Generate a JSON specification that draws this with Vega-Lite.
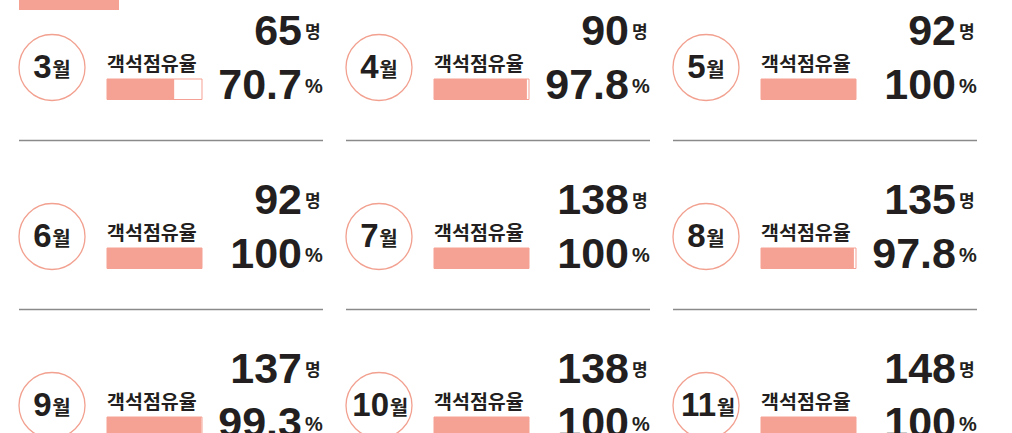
{
  "$schema": "https://vega.github.io/schema/vega-lite/v6.json",
  "padding": 0,
  "background": "white",
  "spacing": 0,
  "config": {
    "view": {"stroke": null},
    "concat": {"spacing": 0},
    "text": {"baseline": "alphabetic", "color": "#231f20"}
  },
  "data": {"values": [
    {"month": 3, "people": 65, "pct": 70.7},
    {"month": 4, "people": 90, "pct": 97.8},
    {"month": 5, "people": 92, "pct": 100},
    {"month": 6, "people": 92, "pct": 100},
    {"month": 7, "people": 138, "pct": 100},
    {"month": 8, "people": 135, "pct": 97.8},
    {"month": 9, "people": 137, "pct": 99.3},
    {"month": 10, "people": 138, "pct": 100},
    {"month": 11, "people": 148, "pct": 100}
  ]},
  "vconcat": [
    {
      "width": 326.5, "height": 10,
      "data": {"values": [{"section": "header"}]},
      "mark": {"type": "rect", "fill": "#f5a193"},
      "encoding": {
        "x": {"datum": -92.63, "type": "quantitative", "scale": {"domain": [-112.632, 231.053], "nice": false, "zero": false}, "axis": null},
        "x2": {"datum": 12.63}
      }
    },
    {"spacing": 0, "hconcat": [
      {"width": 326.5, "height": 165, "transform": [{"filter": "datum.month == 3"}], "layer": [
        {"mark": {"type": "point", "shape": "circle", "filled": false, "size": 4356, "stroke": "#f2a08f", "strokeWidth": 1.3, "opacity": 1},
         "encoding": {"x": {"datum": -57.89, "type": "quantitative", "scale": {"domain": [-112.632, 231.053], "nice": false, "zero": false}, "axis": null},
                      "y": {"datum": 53.5, "type": "quantitative", "scale": {"domain": [0, 165], "reverse": true, "nice": false, "zero": false}, "axis": null}}},
        {"mark": {"type": "rule", "stroke": "#8a8a8a", "strokeWidth": 1.7}, "encoding": {"x": {"datum": -92.63, "type": "quantitative"}, "x2": {"datum": 227.37}, "y": {"datum": 126.5, "type": "quantitative"}}},
        {"mark": {"type": "text", "align": "right", "font": "Liberation Sans", "fontWeight": "bold", "fontSize": 33}, "encoding": {"x": {"datum": -58.42, "type": "quantitative"}, "y": {"datum": 63.5, "type": "quantitative"}, "text": {"field": "month", "type": "nominal"}}},
        {"mark": {"type": "text", "align": "left", "font": "Noto Sans CJK KR", "fontWeight": "bold", "fontSize": 20, "text": "월"}, "encoding": {"x": {"datum": -57.6, "type": "quantitative"}, "y": {"datum": 62.6, "type": "quantitative"}}},
        {"mark": {"type": "text", "align": "left", "font": "Noto Sans CJK KR", "fontWeight": "bold", "fontSize": 19.5, "text": "객석점유율"}, "encoding": {"x": {"datum": 0, "type": "quantitative"}, "y": {"datum": 56.6, "type": "quantitative"}}},
        {"mark": {"type": "rect", "fill": "white", "stroke": "#f5a193", "strokeWidth": 1}, "encoding": {"x": {"datum": 0, "type": "quantitative"}, "x2": {"datum": 100}, "y": {"datum": 65, "type": "quantitative"}, "y2": {"datum": 85.5}}},
        {"mark": {"type": "rect", "fill": "#f5a193"}, "encoding": {"x": {"field": "pct", "type": "quantitative"}, "x2": {"datum": 0}, "y": {"datum": 65, "type": "quantitative"}, "y2": {"datum": 85.5}}},
        {"mark": {"type": "text", "align": "right", "font": "Liberation Sans", "fontWeight": "bold", "fontSize": 43}, "encoding": {"x": {"datum": 205.26, "type": "quantitative"}, "y": {"datum": 30.5, "type": "quantitative"}, "text": {"field": "people", "type": "nominal"}}},
        {"mark": {"type": "text", "align": "left", "font": "Noto Sans CJK KR", "fontWeight": "bold", "fontSize": 17, "text": "명"}, "encoding": {"x": {"datum": 208.42, "type": "quantitative"}, "y": {"datum": 23.8, "type": "quantitative"}}},
        {"mark": {"type": "text", "align": "right", "font": "Liberation Sans", "fontWeight": "bold", "fontSize": 43}, "encoding": {"x": {"datum": 205.26, "type": "quantitative"}, "y": {"datum": 85, "type": "quantitative"}, "text": {"field": "pct", "type": "nominal"}}},
        {"mark": {"type": "text", "align": "left", "font": "Liberation Sans", "fontWeight": "bold", "fontSize": 20, "text": "%"}, "encoding": {"x": {"datum": 208.42, "type": "quantitative"}, "y": {"datum": 79, "type": "quantitative"}}}
      ]},
      {"width": 326.5, "height": 165, "transform": [{"filter": "datum.month == 4"}], "layer": [
        {"mark": {"type": "point", "shape": "circle", "filled": false, "size": 4356, "stroke": "#f2a08f", "strokeWidth": 1.3, "opacity": 1},
         "encoding": {"x": {"datum": -57.89, "type": "quantitative", "scale": {"domain": [-112.632, 231.053], "nice": false, "zero": false}, "axis": null},
                      "y": {"datum": 53.5, "type": "quantitative", "scale": {"domain": [0, 165], "reverse": true, "nice": false, "zero": false}, "axis": null}}},
        {"mark": {"type": "rule", "stroke": "#8a8a8a", "strokeWidth": 1.7}, "encoding": {"x": {"datum": -92.63, "type": "quantitative"}, "x2": {"datum": 227.37}, "y": {"datum": 126.5, "type": "quantitative"}}},
        {"mark": {"type": "text", "align": "right", "font": "Liberation Sans", "fontWeight": "bold", "fontSize": 33}, "encoding": {"x": {"datum": -58.42, "type": "quantitative"}, "y": {"datum": 63.5, "type": "quantitative"}, "text": {"field": "month", "type": "nominal"}}},
        {"mark": {"type": "text", "align": "left", "font": "Noto Sans CJK KR", "fontWeight": "bold", "fontSize": 20, "text": "월"}, "encoding": {"x": {"datum": -57.6, "type": "quantitative"}, "y": {"datum": 62.6, "type": "quantitative"}}},
        {"mark": {"type": "text", "align": "left", "font": "Noto Sans CJK KR", "fontWeight": "bold", "fontSize": 19.5, "text": "객석점유율"}, "encoding": {"x": {"datum": 0, "type": "quantitative"}, "y": {"datum": 56.6, "type": "quantitative"}}},
        {"mark": {"type": "rect", "fill": "white", "stroke": "#f5a193", "strokeWidth": 1}, "encoding": {"x": {"datum": 0, "type": "quantitative"}, "x2": {"datum": 100}, "y": {"datum": 65, "type": "quantitative"}, "y2": {"datum": 85.5}}},
        {"mark": {"type": "rect", "fill": "#f5a193"}, "encoding": {"x": {"field": "pct", "type": "quantitative"}, "x2": {"datum": 0}, "y": {"datum": 65, "type": "quantitative"}, "y2": {"datum": 85.5}}},
        {"mark": {"type": "text", "align": "right", "font": "Liberation Sans", "fontWeight": "bold", "fontSize": 43}, "encoding": {"x": {"datum": 205.26, "type": "quantitative"}, "y": {"datum": 30.5, "type": "quantitative"}, "text": {"field": "people", "type": "nominal"}}},
        {"mark": {"type": "text", "align": "left", "font": "Noto Sans CJK KR", "fontWeight": "bold", "fontSize": 17, "text": "명"}, "encoding": {"x": {"datum": 208.42, "type": "quantitative"}, "y": {"datum": 23.8, "type": "quantitative"}}},
        {"mark": {"type": "text", "align": "right", "font": "Liberation Sans", "fontWeight": "bold", "fontSize": 43}, "encoding": {"x": {"datum": 205.26, "type": "quantitative"}, "y": {"datum": 85, "type": "quantitative"}, "text": {"field": "pct", "type": "nominal"}}},
        {"mark": {"type": "text", "align": "left", "font": "Liberation Sans", "fontWeight": "bold", "fontSize": 20, "text": "%"}, "encoding": {"x": {"datum": 208.42, "type": "quantitative"}, "y": {"datum": 79, "type": "quantitative"}}}
      ]},
      {"width": 326.5, "height": 165, "transform": [{"filter": "datum.month == 5"}], "layer": [
        {"mark": {"type": "point", "shape": "circle", "filled": false, "size": 4356, "stroke": "#f2a08f", "strokeWidth": 1.3, "opacity": 1},
         "encoding": {"x": {"datum": -57.89, "type": "quantitative", "scale": {"domain": [-112.632, 231.053], "nice": false, "zero": false}, "axis": null},
                      "y": {"datum": 53.5, "type": "quantitative", "scale": {"domain": [0, 165], "reverse": true, "nice": false, "zero": false}, "axis": null}}},
        {"mark": {"type": "rule", "stroke": "#8a8a8a", "strokeWidth": 1.7}, "encoding": {"x": {"datum": -92.63, "type": "quantitative"}, "x2": {"datum": 227.37}, "y": {"datum": 126.5, "type": "quantitative"}}},
        {"mark": {"type": "text", "align": "right", "font": "Liberation Sans", "fontWeight": "bold", "fontSize": 33}, "encoding": {"x": {"datum": -58.42, "type": "quantitative"}, "y": {"datum": 63.5, "type": "quantitative"}, "text": {"field": "month", "type": "nominal"}}},
        {"mark": {"type": "text", "align": "left", "font": "Noto Sans CJK KR", "fontWeight": "bold", "fontSize": 20, "text": "월"}, "encoding": {"x": {"datum": -57.6, "type": "quantitative"}, "y": {"datum": 62.6, "type": "quantitative"}}},
        {"mark": {"type": "text", "align": "left", "font": "Noto Sans CJK KR", "fontWeight": "bold", "fontSize": 19.5, "text": "객석점유율"}, "encoding": {"x": {"datum": 0, "type": "quantitative"}, "y": {"datum": 56.6, "type": "quantitative"}}},
        {"mark": {"type": "rect", "fill": "white", "stroke": "#f5a193", "strokeWidth": 1}, "encoding": {"x": {"datum": 0, "type": "quantitative"}, "x2": {"datum": 100}, "y": {"datum": 65, "type": "quantitative"}, "y2": {"datum": 85.5}}},
        {"mark": {"type": "rect", "fill": "#f5a193"}, "encoding": {"x": {"field": "pct", "type": "quantitative"}, "x2": {"datum": 0}, "y": {"datum": 65, "type": "quantitative"}, "y2": {"datum": 85.5}}},
        {"mark": {"type": "text", "align": "right", "font": "Liberation Sans", "fontWeight": "bold", "fontSize": 43}, "encoding": {"x": {"datum": 205.26, "type": "quantitative"}, "y": {"datum": 30.5, "type": "quantitative"}, "text": {"field": "people", "type": "nominal"}}},
        {"mark": {"type": "text", "align": "left", "font": "Noto Sans CJK KR", "fontWeight": "bold", "fontSize": 17, "text": "명"}, "encoding": {"x": {"datum": 208.42, "type": "quantitative"}, "y": {"datum": 23.8, "type": "quantitative"}}},
        {"mark": {"type": "text", "align": "right", "font": "Liberation Sans", "fontWeight": "bold", "fontSize": 43}, "encoding": {"x": {"datum": 205.26, "type": "quantitative"}, "y": {"datum": 85, "type": "quantitative"}, "text": {"field": "pct", "type": "nominal"}}},
        {"mark": {"type": "text", "align": "left", "font": "Liberation Sans", "fontWeight": "bold", "fontSize": 20, "text": "%"}, "encoding": {"x": {"datum": 208.42, "type": "quantitative"}, "y": {"datum": 79, "type": "quantitative"}}}
      ]}
    ]},
    {"spacing": 0, "hconcat": [
      {"width": 326.5, "height": 165, "transform": [{"filter": "datum.month == 6"}], "layer": [
        {"mark": {"type": "point", "shape": "circle", "filled": false, "size": 4356, "stroke": "#f2a08f", "strokeWidth": 1.3, "opacity": 1},
         "encoding": {"x": {"datum": -57.89, "type": "quantitative", "scale": {"domain": [-112.632, 231.053], "nice": false, "zero": false}, "axis": null},
                      "y": {"datum": 53.5, "type": "quantitative", "scale": {"domain": [0, 165], "reverse": true, "nice": false, "zero": false}, "axis": null}}},
        {"mark": {"type": "rule", "stroke": "#8a8a8a", "strokeWidth": 1.7}, "encoding": {"x": {"datum": -92.63, "type": "quantitative"}, "x2": {"datum": 227.37}, "y": {"datum": 126.5, "type": "quantitative"}}},
        {"mark": {"type": "text", "align": "right", "font": "Liberation Sans", "fontWeight": "bold", "fontSize": 33}, "encoding": {"x": {"datum": -58.42, "type": "quantitative"}, "y": {"datum": 63.5, "type": "quantitative"}, "text": {"field": "month", "type": "nominal"}}},
        {"mark": {"type": "text", "align": "left", "font": "Noto Sans CJK KR", "fontWeight": "bold", "fontSize": 20, "text": "월"}, "encoding": {"x": {"datum": -57.6, "type": "quantitative"}, "y": {"datum": 62.6, "type": "quantitative"}}},
        {"mark": {"type": "text", "align": "left", "font": "Noto Sans CJK KR", "fontWeight": "bold", "fontSize": 19.5, "text": "객석점유율"}, "encoding": {"x": {"datum": 0, "type": "quantitative"}, "y": {"datum": 56.6, "type": "quantitative"}}},
        {"mark": {"type": "rect", "fill": "white", "stroke": "#f5a193", "strokeWidth": 1}, "encoding": {"x": {"datum": 0, "type": "quantitative"}, "x2": {"datum": 100}, "y": {"datum": 65, "type": "quantitative"}, "y2": {"datum": 85.5}}},
        {"mark": {"type": "rect", "fill": "#f5a193"}, "encoding": {"x": {"field": "pct", "type": "quantitative"}, "x2": {"datum": 0}, "y": {"datum": 65, "type": "quantitative"}, "y2": {"datum": 85.5}}},
        {"mark": {"type": "text", "align": "right", "font": "Liberation Sans", "fontWeight": "bold", "fontSize": 43}, "encoding": {"x": {"datum": 205.26, "type": "quantitative"}, "y": {"datum": 30.5, "type": "quantitative"}, "text": {"field": "people", "type": "nominal"}}},
        {"mark": {"type": "text", "align": "left", "font": "Noto Sans CJK KR", "fontWeight": "bold", "fontSize": 17, "text": "명"}, "encoding": {"x": {"datum": 208.42, "type": "quantitative"}, "y": {"datum": 23.8, "type": "quantitative"}}},
        {"mark": {"type": "text", "align": "right", "font": "Liberation Sans", "fontWeight": "bold", "fontSize": 43}, "encoding": {"x": {"datum": 205.26, "type": "quantitative"}, "y": {"datum": 85, "type": "quantitative"}, "text": {"field": "pct", "type": "nominal"}}},
        {"mark": {"type": "text", "align": "left", "font": "Liberation Sans", "fontWeight": "bold", "fontSize": 20, "text": "%"}, "encoding": {"x": {"datum": 208.42, "type": "quantitative"}, "y": {"datum": 79, "type": "quantitative"}}}
      ]},
      {"width": 326.5, "height": 165, "transform": [{"filter": "datum.month == 7"}], "layer": [
        {"mark": {"type": "point", "shape": "circle", "filled": false, "size": 4356, "stroke": "#f2a08f", "strokeWidth": 1.3, "opacity": 1},
         "encoding": {"x": {"datum": -57.89, "type": "quantitative", "scale": {"domain": [-112.632, 231.053], "nice": false, "zero": false}, "axis": null},
                      "y": {"datum": 53.5, "type": "quantitative", "scale": {"domain": [0, 165], "reverse": true, "nice": false, "zero": false}, "axis": null}}},
        {"mark": {"type": "rule", "stroke": "#8a8a8a", "strokeWidth": 1.7}, "encoding": {"x": {"datum": -92.63, "type": "quantitative"}, "x2": {"datum": 227.37}, "y": {"datum": 126.5, "type": "quantitative"}}},
        {"mark": {"type": "text", "align": "right", "font": "Liberation Sans", "fontWeight": "bold", "fontSize": 33}, "encoding": {"x": {"datum": -58.42, "type": "quantitative"}, "y": {"datum": 63.5, "type": "quantitative"}, "text": {"field": "month", "type": "nominal"}}},
        {"mark": {"type": "text", "align": "left", "font": "Noto Sans CJK KR", "fontWeight": "bold", "fontSize": 20, "text": "월"}, "encoding": {"x": {"datum": -57.6, "type": "quantitative"}, "y": {"datum": 62.6, "type": "quantitative"}}},
        {"mark": {"type": "text", "align": "left", "font": "Noto Sans CJK KR", "fontWeight": "bold", "fontSize": 19.5, "text": "객석점유율"}, "encoding": {"x": {"datum": 0, "type": "quantitative"}, "y": {"datum": 56.6, "type": "quantitative"}}},
        {"mark": {"type": "rect", "fill": "white", "stroke": "#f5a193", "strokeWidth": 1}, "encoding": {"x": {"datum": 0, "type": "quantitative"}, "x2": {"datum": 100}, "y": {"datum": 65, "type": "quantitative"}, "y2": {"datum": 85.5}}},
        {"mark": {"type": "rect", "fill": "#f5a193"}, "encoding": {"x": {"field": "pct", "type": "quantitative"}, "x2": {"datum": 0}, "y": {"datum": 65, "type": "quantitative"}, "y2": {"datum": 85.5}}},
        {"mark": {"type": "text", "align": "right", "font": "Liberation Sans", "fontWeight": "bold", "fontSize": 43}, "encoding": {"x": {"datum": 205.26, "type": "quantitative"}, "y": {"datum": 30.5, "type": "quantitative"}, "text": {"field": "people", "type": "nominal"}}},
        {"mark": {"type": "text", "align": "left", "font": "Noto Sans CJK KR", "fontWeight": "bold", "fontSize": 17, "text": "명"}, "encoding": {"x": {"datum": 208.42, "type": "quantitative"}, "y": {"datum": 23.8, "type": "quantitative"}}},
        {"mark": {"type": "text", "align": "right", "font": "Liberation Sans", "fontWeight": "bold", "fontSize": 43}, "encoding": {"x": {"datum": 205.26, "type": "quantitative"}, "y": {"datum": 85, "type": "quantitative"}, "text": {"field": "pct", "type": "nominal"}}},
        {"mark": {"type": "text", "align": "left", "font": "Liberation Sans", "fontWeight": "bold", "fontSize": 20, "text": "%"}, "encoding": {"x": {"datum": 208.42, "type": "quantitative"}, "y": {"datum": 79, "type": "quantitative"}}}
      ]},
      {"width": 326.5, "height": 165, "transform": [{"filter": "datum.month == 8"}], "layer": [
        {"mark": {"type": "point", "shape": "circle", "filled": false, "size": 4356, "stroke": "#f2a08f", "strokeWidth": 1.3, "opacity": 1},
         "encoding": {"x": {"datum": -57.89, "type": "quantitative", "scale": {"domain": [-112.632, 231.053], "nice": false, "zero": false}, "axis": null},
                      "y": {"datum": 53.5, "type": "quantitative", "scale": {"domain": [0, 165], "reverse": true, "nice": false, "zero": false}, "axis": null}}},
        {"mark": {"type": "rule", "stroke": "#8a8a8a", "strokeWidth": 1.7}, "encoding": {"x": {"datum": -92.63, "type": "quantitative"}, "x2": {"datum": 227.37}, "y": {"datum": 126.5, "type": "quantitative"}}},
        {"mark": {"type": "text", "align": "right", "font": "Liberation Sans", "fontWeight": "bold", "fontSize": 33}, "encoding": {"x": {"datum": -58.42, "type": "quantitative"}, "y": {"datum": 63.5, "type": "quantitative"}, "text": {"field": "month", "type": "nominal"}}},
        {"mark": {"type": "text", "align": "left", "font": "Noto Sans CJK KR", "fontWeight": "bold", "fontSize": 20, "text": "월"}, "encoding": {"x": {"datum": -57.6, "type": "quantitative"}, "y": {"datum": 62.6, "type": "quantitative"}}},
        {"mark": {"type": "text", "align": "left", "font": "Noto Sans CJK KR", "fontWeight": "bold", "fontSize": 19.5, "text": "객석점유율"}, "encoding": {"x": {"datum": 0, "type": "quantitative"}, "y": {"datum": 56.6, "type": "quantitative"}}},
        {"mark": {"type": "rect", "fill": "white", "stroke": "#f5a193", "strokeWidth": 1}, "encoding": {"x": {"datum": 0, "type": "quantitative"}, "x2": {"datum": 100}, "y": {"datum": 65, "type": "quantitative"}, "y2": {"datum": 85.5}}},
        {"mark": {"type": "rect", "fill": "#f5a193"}, "encoding": {"x": {"field": "pct", "type": "quantitative"}, "x2": {"datum": 0}, "y": {"datum": 65, "type": "quantitative"}, "y2": {"datum": 85.5}}},
        {"mark": {"type": "text", "align": "right", "font": "Liberation Sans", "fontWeight": "bold", "fontSize": 43}, "encoding": {"x": {"datum": 205.26, "type": "quantitative"}, "y": {"datum": 30.5, "type": "quantitative"}, "text": {"field": "people", "type": "nominal"}}},
        {"mark": {"type": "text", "align": "left", "font": "Noto Sans CJK KR", "fontWeight": "bold", "fontSize": 17, "text": "명"}, "encoding": {"x": {"datum": 208.42, "type": "quantitative"}, "y": {"datum": 23.8, "type": "quantitative"}}},
        {"mark": {"type": "text", "align": "right", "font": "Liberation Sans", "fontWeight": "bold", "fontSize": 43}, "encoding": {"x": {"datum": 205.26, "type": "quantitative"}, "y": {"datum": 85, "type": "quantitative"}, "text": {"field": "pct", "type": "nominal"}}},
        {"mark": {"type": "text", "align": "left", "font": "Liberation Sans", "fontWeight": "bold", "fontSize": 20, "text": "%"}, "encoding": {"x": {"datum": 208.42, "type": "quantitative"}, "y": {"datum": 79, "type": "quantitative"}}}
      ]}
    ]},
    {"spacing": 0, "hconcat": [
      {"width": 326.5, "height": 93, "transform": [{"filter": "datum.month == 9"}], "layer": [
        {"mark": {"type": "point", "shape": "circle", "filled": false, "size": 4356, "stroke": "#f2a08f", "strokeWidth": 1.3, "opacity": 1},
         "encoding": {"x": {"datum": -57.89, "type": "quantitative", "scale": {"domain": [-112.632, 231.053], "nice": false, "zero": false}, "axis": null},
                      "y": {"datum": 53.5, "type": "quantitative", "scale": {"domain": [0, 93], "reverse": true, "nice": false, "zero": false}, "axis": null}}},
        {"mark": {"type": "text", "align": "right", "font": "Liberation Sans", "fontWeight": "bold", "fontSize": 33}, "encoding": {"x": {"datum": -58.42, "type": "quantitative"}, "y": {"datum": 63.5, "type": "quantitative"}, "text": {"field": "month", "type": "nominal"}}},
        {"mark": {"type": "text", "align": "left", "font": "Noto Sans CJK KR", "fontWeight": "bold", "fontSize": 20, "text": "월"}, "encoding": {"x": {"datum": -57.6, "type": "quantitative"}, "y": {"datum": 62.6, "type": "quantitative"}}},
        {"mark": {"type": "text", "align": "left", "font": "Noto Sans CJK KR", "fontWeight": "bold", "fontSize": 19.5, "text": "객석점유율"}, "encoding": {"x": {"datum": 0, "type": "quantitative"}, "y": {"datum": 56.6, "type": "quantitative"}}},
        {"mark": {"type": "rect", "fill": "white", "stroke": "#f5a193", "strokeWidth": 1}, "encoding": {"x": {"datum": 0, "type": "quantitative"}, "x2": {"datum": 100}, "y": {"datum": 65, "type": "quantitative"}, "y2": {"datum": 85.5}}},
        {"mark": {"type": "rect", "fill": "#f5a193"}, "encoding": {"x": {"field": "pct", "type": "quantitative"}, "x2": {"datum": 0}, "y": {"datum": 65, "type": "quantitative"}, "y2": {"datum": 85.5}}},
        {"mark": {"type": "text", "align": "right", "font": "Liberation Sans", "fontWeight": "bold", "fontSize": 43}, "encoding": {"x": {"datum": 205.26, "type": "quantitative"}, "y": {"datum": 30.5, "type": "quantitative"}, "text": {"field": "people", "type": "nominal"}}},
        {"mark": {"type": "text", "align": "left", "font": "Noto Sans CJK KR", "fontWeight": "bold", "fontSize": 17, "text": "명"}, "encoding": {"x": {"datum": 208.42, "type": "quantitative"}, "y": {"datum": 23.8, "type": "quantitative"}}},
        {"mark": {"type": "text", "align": "right", "font": "Liberation Sans", "fontWeight": "bold", "fontSize": 43}, "encoding": {"x": {"datum": 205.26, "type": "quantitative"}, "y": {"datum": 85, "type": "quantitative"}, "text": {"field": "pct", "type": "nominal"}}},
        {"mark": {"type": "text", "align": "left", "font": "Liberation Sans", "fontWeight": "bold", "fontSize": 20, "text": "%"}, "encoding": {"x": {"datum": 208.42, "type": "quantitative"}, "y": {"datum": 79, "type": "quantitative"}}}
      ]},
      {"width": 326.5, "height": 93, "transform": [{"filter": "datum.month == 10"}], "layer": [
        {"mark": {"type": "point", "shape": "circle", "filled": false, "size": 4356, "stroke": "#f2a08f", "strokeWidth": 1.3, "opacity": 1},
         "encoding": {"x": {"datum": -57.89, "type": "quantitative", "scale": {"domain": [-112.632, 231.053], "nice": false, "zero": false}, "axis": null},
                      "y": {"datum": 53.5, "type": "quantitative", "scale": {"domain": [0, 93], "reverse": true, "nice": false, "zero": false}, "axis": null}}},
        {"mark": {"type": "text", "align": "right", "font": "Liberation Sans", "fontWeight": "bold", "fontSize": 33}, "encoding": {"x": {"datum": -47.37, "type": "quantitative"}, "y": {"datum": 63.5, "type": "quantitative"}, "text": {"field": "month", "type": "nominal"}}},
        {"mark": {"type": "text", "align": "left", "font": "Noto Sans CJK KR", "fontWeight": "bold", "fontSize": 20, "text": "월"}, "encoding": {"x": {"datum": -46.5, "type": "quantitative"}, "y": {"datum": 62.6, "type": "quantitative"}}},
        {"mark": {"type": "text", "align": "left", "font": "Noto Sans CJK KR", "fontWeight": "bold", "fontSize": 19.5, "text": "객석점유율"}, "encoding": {"x": {"datum": 0, "type": "quantitative"}, "y": {"datum": 56.6, "type": "quantitative"}}},
        {"mark": {"type": "rect", "fill": "white", "stroke": "#f5a193", "strokeWidth": 1}, "encoding": {"x": {"datum": 0, "type": "quantitative"}, "x2": {"datum": 100}, "y": {"datum": 65, "type": "quantitative"}, "y2": {"datum": 85.5}}},
        {"mark": {"type": "rect", "fill": "#f5a193"}, "encoding": {"x": {"field": "pct", "type": "quantitative"}, "x2": {"datum": 0}, "y": {"datum": 65, "type": "quantitative"}, "y2": {"datum": 85.5}}},
        {"mark": {"type": "text", "align": "right", "font": "Liberation Sans", "fontWeight": "bold", "fontSize": 43}, "encoding": {"x": {"datum": 205.26, "type": "quantitative"}, "y": {"datum": 30.5, "type": "quantitative"}, "text": {"field": "people", "type": "nominal"}}},
        {"mark": {"type": "text", "align": "left", "font": "Noto Sans CJK KR", "fontWeight": "bold", "fontSize": 17, "text": "명"}, "encoding": {"x": {"datum": 208.42, "type": "quantitative"}, "y": {"datum": 23.8, "type": "quantitative"}}},
        {"mark": {"type": "text", "align": "right", "font": "Liberation Sans", "fontWeight": "bold", "fontSize": 43}, "encoding": {"x": {"datum": 205.26, "type": "quantitative"}, "y": {"datum": 85, "type": "quantitative"}, "text": {"field": "pct", "type": "nominal"}}},
        {"mark": {"type": "text", "align": "left", "font": "Liberation Sans", "fontWeight": "bold", "fontSize": 20, "text": "%"}, "encoding": {"x": {"datum": 208.42, "type": "quantitative"}, "y": {"datum": 79, "type": "quantitative"}}}
      ]},
      {"width": 326.5, "height": 93, "transform": [{"filter": "datum.month == 11"}], "layer": [
        {"mark": {"type": "point", "shape": "circle", "filled": false, "size": 4356, "stroke": "#f2a08f", "strokeWidth": 1.3, "opacity": 1},
         "encoding": {"x": {"datum": -57.89, "type": "quantitative", "scale": {"domain": [-112.632, 231.053], "nice": false, "zero": false}, "axis": null},
                      "y": {"datum": 53.5, "type": "quantitative", "scale": {"domain": [0, 93], "reverse": true, "nice": false, "zero": false}, "axis": null}}},
        {"mark": {"type": "text", "align": "right", "font": "Liberation Sans", "fontWeight": "bold", "fontSize": 33}, "encoding": {"x": {"datum": -47.37, "type": "quantitative"}, "y": {"datum": 63.5, "type": "quantitative"}, "text": {"field": "month", "type": "nominal"}}},
        {"mark": {"type": "text", "align": "left", "font": "Noto Sans CJK KR", "fontWeight": "bold", "fontSize": 20, "text": "월"}, "encoding": {"x": {"datum": -46.5, "type": "quantitative"}, "y": {"datum": 62.6, "type": "quantitative"}}},
        {"mark": {"type": "text", "align": "left", "font": "Noto Sans CJK KR", "fontWeight": "bold", "fontSize": 19.5, "text": "객석점유율"}, "encoding": {"x": {"datum": 0, "type": "quantitative"}, "y": {"datum": 56.6, "type": "quantitative"}}},
        {"mark": {"type": "rect", "fill": "white", "stroke": "#f5a193", "strokeWidth": 1}, "encoding": {"x": {"datum": 0, "type": "quantitative"}, "x2": {"datum": 100}, "y": {"datum": 65, "type": "quantitative"}, "y2": {"datum": 85.5}}},
        {"mark": {"type": "rect", "fill": "#f5a193"}, "encoding": {"x": {"field": "pct", "type": "quantitative"}, "x2": {"datum": 0}, "y": {"datum": 65, "type": "quantitative"}, "y2": {"datum": 85.5}}},
        {"mark": {"type": "text", "align": "right", "font": "Liberation Sans", "fontWeight": "bold", "fontSize": 43}, "encoding": {"x": {"datum": 205.26, "type": "quantitative"}, "y": {"datum": 30.5, "type": "quantitative"}, "text": {"field": "people", "type": "nominal"}}},
        {"mark": {"type": "text", "align": "left", "font": "Noto Sans CJK KR", "fontWeight": "bold", "fontSize": 17, "text": "명"}, "encoding": {"x": {"datum": 208.42, "type": "quantitative"}, "y": {"datum": 23.8, "type": "quantitative"}}},
        {"mark": {"type": "text", "align": "right", "font": "Liberation Sans", "fontWeight": "bold", "fontSize": 43}, "encoding": {"x": {"datum": 205.26, "type": "quantitative"}, "y": {"datum": 85, "type": "quantitative"}, "text": {"field": "pct", "type": "nominal"}}},
        {"mark": {"type": "text", "align": "left", "font": "Liberation Sans", "fontWeight": "bold", "fontSize": 20, "text": "%"}, "encoding": {"x": {"datum": 208.42, "type": "quantitative"}, "y": {"datum": 79, "type": "quantitative"}}}
      ]}
    ]}
  ]
}
